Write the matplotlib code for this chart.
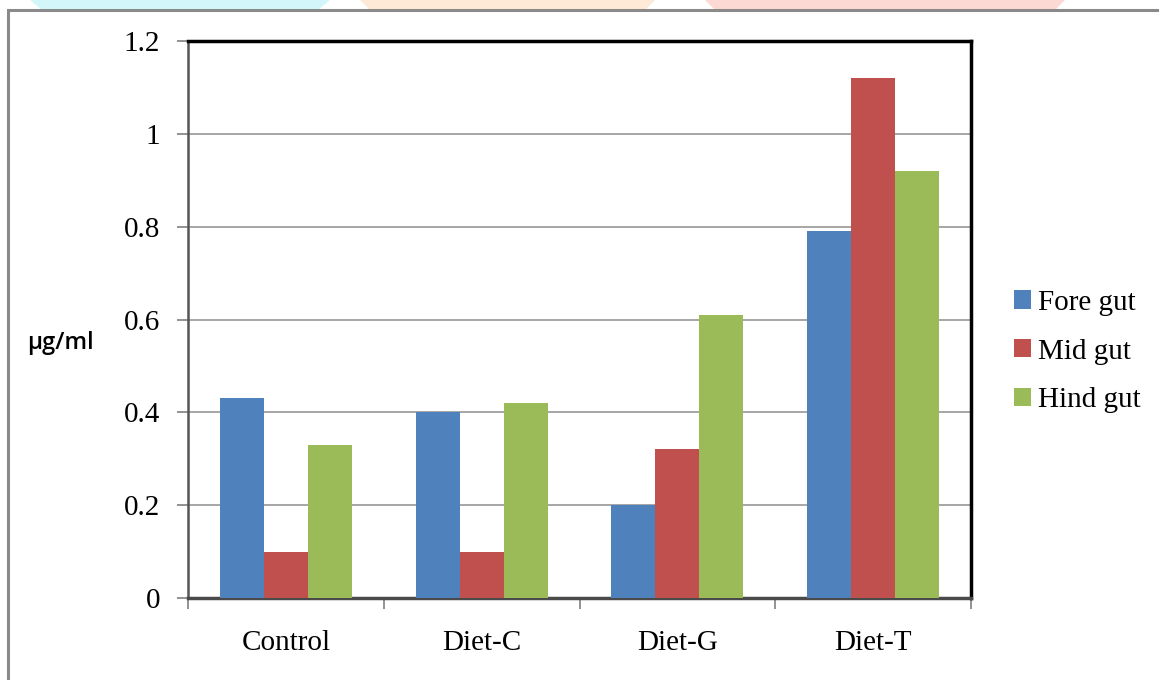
import matplotlib
matplotlib.use("Agg")
import matplotlib.pyplot as plt
from matplotlib.patches import Rectangle, Polygon
import numpy as np

categories = ["Control", "Diet-C", "Diet-G", "Diet-T"]
series_names = ["Fore gut", "Mid gut", "Hind gut"]
fore_gut = [0.43, 0.40, 0.20, 0.79]
mid_gut = [0.10, 0.10, 0.32, 1.12]
hind_gut = [0.33, 0.42, 0.61, 0.92]
y_ticks = [0, 0.2, 0.4, 0.6, 0.8, 1, 1.2]
y_tick_labels = ["0", "0.2", "0.4", "0.6", "0.8", "1", "1.2"]
colors = ["#4f81bd", "#c0504d", "#9bbb59"]

W, H = 1159, 680
fig = plt.figure(figsize=(W / 100, H / 100), dpi=100)
fig.patch.set_facecolor("white")

# faint banner shapes peeking above the frame
banner = [
    ([(30, 0), (330, 0), (318, 10), (42, 10)], "#d2f6fa"),
    ([(360, 0), (655, 0), (645, 10), (370, 10)], "#fde9d6"),
    ([(705, 0), (1065, 0), (1055, 10), (715, 10)], "#fdd9d3"),
]
for pts, c in banner:
    fig.patches.append(Polygon([(x / W, 1 - y / H) for x, y in pts], closed=True,
                               transform=fig.transFigure, facecolor=c, edgecolor="none"))

# outer gray frame
fig.patches.append(Rectangle((8 / W, -0.05), 1.2, 1 - 10 / H + 0.05,
                             transform=fig.transFigure, facecolor="none",
                             edgecolor="#8a8a8a", linewidth=2.2))

ax = fig.add_axes([188 / W, 1 - 598 / H, (971 - 188) / W, (598 - 41) / H])
ax.set_facecolor("white")

x = np.arange(len(categories)) + 0.5
bw = 0.225
for i, (vals, name) in enumerate(zip([fore_gut, mid_gut, hind_gut], series_names)):
    ax.bar(x + (i - 1) * bw, vals, width=bw, color=colors[i], label=name,
           edgecolor="none", zorder=3)

ax.set_xlim(0, len(categories))
ax.set_ylim(0, 1.2)
ax.set_yticks(y_ticks)
ax.set_yticklabels(y_tick_labels, family="Liberation Serif", fontsize=21)
ax.yaxis.grid(True, color="#a6a6a6", linewidth=1.4, zorder=0)
ax.set_axisbelow(True)

ax.set_xticks(x)
ax.set_xticklabels(categories, family="Liberation Serif", fontsize=21)
ax.tick_params(axis="x", which="major", length=0, pad=23)
ax.set_xticks(np.arange(len(categories) + 1), minor=True)
ax.tick_params(axis="x", which="minor", length=8, width=1.3, color="#8a8a8a")
ax.tick_params(axis="y", length=8, width=1.3, color="#8a8a8a", pad=12)

for s in ["top", "right"]:
    ax.spines[s].set_color("black")
    ax.spines[s].set_linewidth(2.5)
ax.spines["left"].set_color("#555555")
ax.spines["left"].set_linewidth(1.8)
ax.spines["bottom"].set_color("#4a4a4a")
ax.spines["bottom"].set_linewidth(2.5)

fig.text(27 / W, 1 - 343 / H, "µg/ml", family="Open Sans", fontsize=17,
         fontweight="semibold", va="center", ha="left", color="black")

leg = fig.legend(loc="center left", bbox_to_anchor=(1002 / W, 1 - 351.5 / H),
                 frameon=False, prop={"family": "Liberation Serif", "size": 21},
                 handlelength=0.6, handleheight=0.6, handletextpad=0.25,
                 labelspacing=0.78, borderaxespad=0)

fig.savefig("out.png", dpi=100, facecolor="white")
